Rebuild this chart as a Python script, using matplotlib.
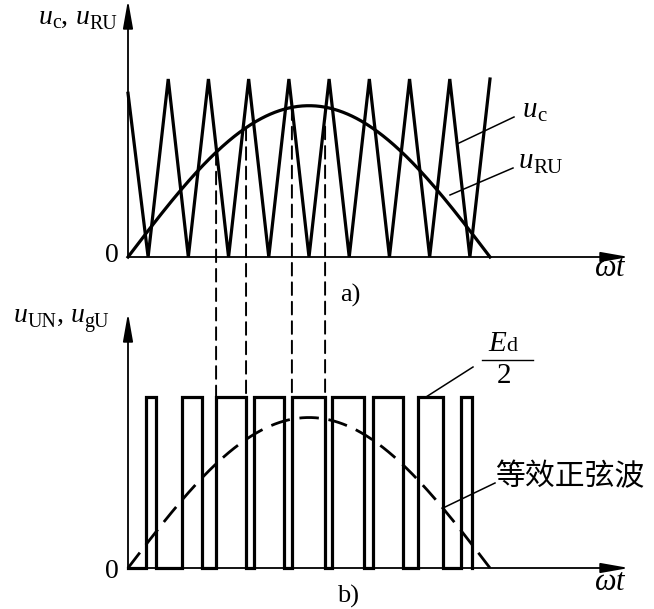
import numpy as np
import matplotlib
matplotlib.use('Agg')
import matplotlib.pyplot as plt
import matplotlib.transforms as mtransforms
from matplotlib.patches import ConnectionPatch

plt.rcParams['font.family'] = ['Liberation Serif', 'DejaVu Serif']
plt.rcParams['mathtext.fontset'] = 'custom'
plt.rcParams['mathtext.rm'] = 'Liberation Serif'
plt.rcParams['mathtext.it'] = 'Liberation Serif:italic'

# carrier (triangle) vertices, wt in degrees, amplitude normalised to 1
tri_t = [0, 10, 20, 30, 40, 50, 60, 70, 80, 90, 100, 110, 120, 130, 140, 150, 160, 170, 180]
tri_v = [0.92, 0, 1, 0, 1, 0, 1, 0, 1, 0, 1, 0, 1, 0, 1, 0, 1, 0, 1]

# modulating sine wave (half period 0..180 deg)
sine_amp = 0.85
sine_amp_out = 0.88   # equivalent sine drawn in panel b

# pulse edges (rising, falling), degrees
pulse_on = [9.0, 26.9, 43.8, 62.7, 81.5, 101.4, 121.8, 144.2, 165.6]
pulse_off = [13.9, 36.8, 58.7, 77.6, 98.0, 117.3, 136.7, 156.6, 171.0]
pulse_end = 171.0

# edges that get a dashed projection line
proj_edges = [43.8, 58.7, 81.5, 98.0]

W, H = 654, 609
fig = plt.figure(figsize=(W / 100, H / 100), dpi=100)
renderer = fig.canvas.get_renderer()

# both axes span the whole figure, limits chosen so the drawing lands where it should
x0_px, x180_px = 128, 490
kx = 180 / (x180_px - x0_px)
xlim = (-x0_px * kx, (W - x0_px) * kx)

top_zero, top_unit = 257, 178
bot_zero, bot_unit = 568, 171

ax = fig.add_axes([0, 0, 1, 1])
ax.set_xlim(*xlim)
ax.set_ylim((top_zero - H) / top_unit, top_zero / top_unit)
ax.axis('off')

bx = fig.add_axes([0, 0, 1, 1])
bx.set_xlim(*xlim)
bx.set_ylim((bot_zero - H) / bot_unit, bot_zero / bot_unit)
bx.axis('off')
bx.patch.set_alpha(0)


def X(px):
    return (px - x0_px) * kx


def YT(py):
    return (top_zero - py) / top_unit


def YB(py):
    return (bot_zero - py) / bot_unit


def rich(a, x, y, parts, ha='left'):
    """ Writes a label made of pieces (text, size, italic, drop in px) on one baseline. """
    texts, widths = [], []
    for s, size, italic, drop in parts:
        t = a.text(x, y, s, fontsize=size, style='italic' if italic else 'normal',
                   ha='left', va='baseline')
        texts.append((t, drop))
        widths.append(t.get_window_extent(renderer).width)
    off = -sum(widths) if ha == 'right' else 0
    for (t, drop), w in zip(texts, widths):
        t.set_transform(mtransforms.offset_copy(a.transData, fig=fig, x=off, y=-drop, units='dots'))
        off += w


def sub(base, s, drop=6, size=21):
    return [(base, size, True, 0), (s, size * 0.72, False, drop)]


def axis_arrows(a, ytip):
    arrow = dict(arrowstyle='-|>,head_length=1.7,head_width=0.3', lw=1.3, color='k',
                 shrinkA=0, shrinkB=0, mutation_scale=10)
    a.annotate('', xy=(0, ytip), xytext=(0, 0), arrowprops=arrow)
    a.annotate('', xy=(X(629), 0), xytext=(0, 0), arrowprops=arrow)


def leader(a, p1, p2, yf):
    a.plot([X(p1[0]), X(p2[0])], [yf(p1[1]), yf(p2[1])], color='k', lw=1.1, clip_on=False)


# ---- panel a ----
axis_arrows(ax, YT(0))
t = np.linspace(0, 180, 400)
ax.plot(tri_t, tri_v, color='k', lw=2.3, solid_joinstyle='miter')
ax.plot(t, sine_amp * np.sin(np.radians(t)), color='k', lw=2.3)

rich(ax, X(117), YT(24), sub('u', 'c', 4, 20) + [(', ', 20, False, 0)] + sub('u', 'RU', 5, 20),
     ha='right')
ax.text(X(119), YT(256), '0', fontsize=20, ha='right', va='center')
ax.text(X(594), YT(269), r'$\omega t$', fontsize=22, ha='left', va='center')
ax.text(X(350), YT(295), 'a)', fontsize=19, ha='center', va='center')
rich(ax, X(523), YT(117), sub('u', 'c', 4))
rich(ax, X(519), YT(168), sub('u', 'RU', 5))
leader(ax, (514, 117), (457, 144), YT)
leader(ax, (513, 168), (450, 195), YT)

# ---- panel b ----
axis_arrows(bx, YB(313))
px_, py_ = [0], [0]
for on, off in zip(pulse_on, pulse_off):
    px_ += [on, on, off, off]
    py_ += [0, 1, 1, 0]
px_.append(pulse_end)
py_.append(0)
bx.plot(px_, py_, color='k', lw=2.3, solid_joinstyle='miter')
bx.plot(t, sine_amp_out * np.sin(np.radians(t)), color='k', lw=2.0, dashes=(7, 3.5))

rich(bx, X(109), YB(322), sub('u', 'UN', 5, 20) + [(', ', 20, False, 0)] + sub('u', 'gU', 5, 20),
     ha='right')
bx.text(X(119), YB(572), '0', fontsize=20, ha='right', va='center')
bx.text(X(594), YB(582), r'$\omega t$', fontsize=22, ha='left', va='center')
bx.text(X(348), YB(596), 'b)', fontsize=19, ha='center', va='center')

# E_d / 2 written as a stacked fraction
rich(bx, X(488), YB(351), [('E', 21, True, 0), ('d', 16, False, 0)])
bx.plot([X(482), X(533)], [YB(360), YB(360)], color='k', lw=1.0, clip_on=False)
bx.text(X(504), YB(376), '2', fontsize=21, ha='center', va='center')

bx.text(X(495), YB(477), '等效正弦波', fontsize=21.5, ha='left', va='center',
        family=['Noto Sans CJK SC', 'DejaVu Sans'])
leader(bx, (473, 367), (426, 397), YB)
leader(bx, (495, 483), (443, 508), YB)

# dashed projection lines from the crossing points down to the pulse edges
for e in proj_edges:
    con = ConnectionPatch(xyA=(e, sine_amp * np.sin(np.radians(e))), coordsA=ax.transData,
                          xyB=(e, 1), coordsB=bx.transData, color='k', lw=1.4,
                          linestyle=(0, (6.5, 3.5)))
    fig.add_artist(con)

fig.savefig('out.png', dpi=100)
